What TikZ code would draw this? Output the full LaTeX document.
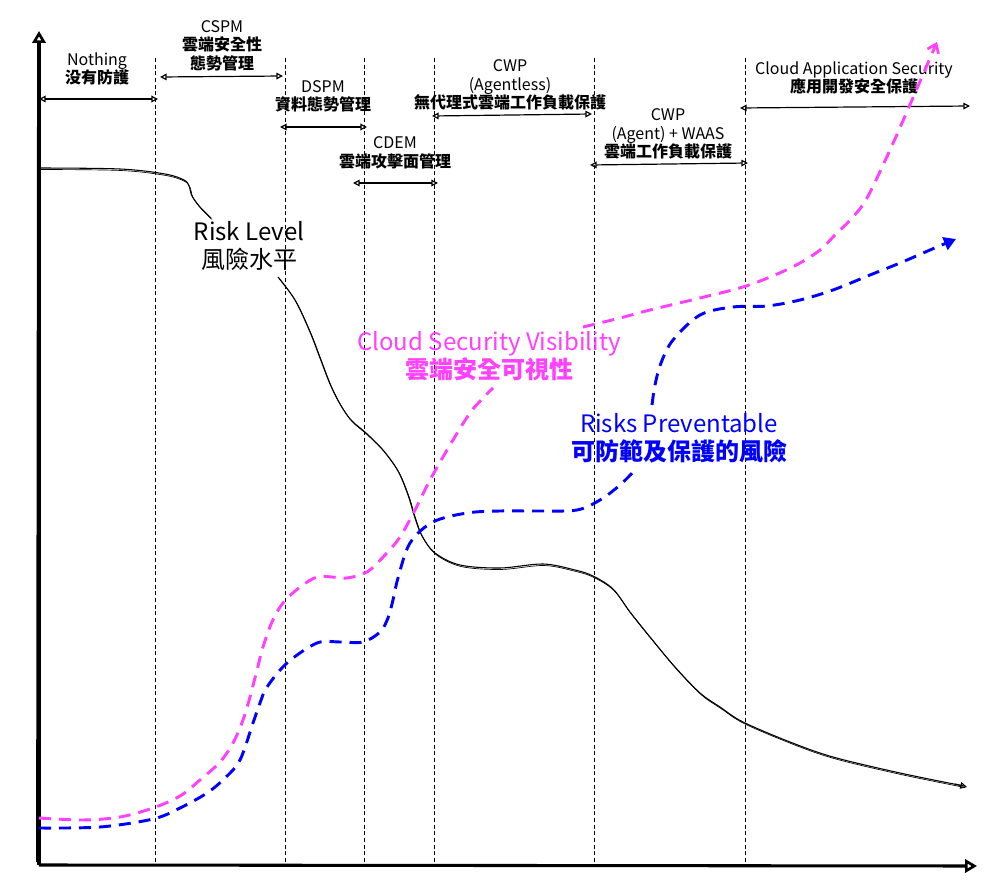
\documentclass[tikz,border=0pt]{standalone}
\usepackage{fontspec}
\setmainfont{Noto Sans CJK TC}
\usetikzlibrary{arrows.meta}
\definecolor{vis}{RGB}{255,64,255}
\definecolor{prev}{RGB}{0,0,255}
\begin{document}
\begin{tikzpicture}[x=0.75pt,y=-0.75pt,
  vline/.style={line width=0.6pt, dash pattern=on 3pt off 2pt},
  span/.style={line width=0.9pt, {Triangle[open,length=5pt,width=5pt]}-{Triangle[open,length=5pt,width=5pt]}},
  axis/.style={line width=2.3pt, -{Triangle[open,length=9pt,width=10pt,line width=2pt]}},
  small/.style={align=center, inner sep=0pt, font=\fontsize{12}{13.9}\selectfont},
  big/.style={align=center, inner sep=0pt, font=\fontsize{18}{21}\selectfont},
  risk/.style={line width=0.8pt},
  visline/.style={vis, line width=2.2pt, dash pattern=on 9pt off 6pt},
  prevline/.style={prev, line width=2.2pt, dash pattern=on 9pt off 6pt},
]
\useasboundingbox (0,0) rectangle (1001,888);
\fill[white] (0,0) rectangle (1001,888);

% vertical dashed separators
\foreach \x/\n in {155/a,285/b,364/c,434/d,594/e,745/f}{
  \coordinate (t\n) at (\x,58);
  \coordinate (b\n) at (\x,862);
  \draw[vline] (t\n) -- (b\n);
}

% axes
\coordinate (origin) at (39,865);
\coordinate (ytop) at (39,31);
\coordinate (xend) at (977,866);
\draw[axis] (origin) -- (ytop);
\draw[line width=0.6pt] (36.5,862) -- (37.5,45);
\draw[axis] (origin) -- (xend);

% span arrows
\coordinate (s1a) at (39,99);   \coordinate (s1b) at (158,99);
\coordinate (s2a) at (160,77);  \coordinate (s2b) at (283,76);
\coordinate (s3a) at (280,127); \coordinate (s3b) at (367,127);
\coordinate (s4a) at (353,183); \coordinate (s4b) at (438,183);
\coordinate (s5a) at (432,116); \coordinate (s5b) at (592,114);
\coordinate (s6a) at (590,165); \coordinate (s6b) at (748,163);
\coordinate (s7a) at (740,108); \coordinate (s7b) at (970,106);
\foreach \i in {1,...,7}{ \draw[span] (s\i a) -- (s\i b); }

% span labels
\node[small] (lnothing) at (97,69) {Nothing\\ \textbf{没有防護}};
\node[small] (lcspm) at (222,45.5) {CSPM\\ \textbf{雲端安全性}\\ \textbf{態勢管理}};
\node[small] (ldspm) at (323,96.5) {DSPM\\ \textbf{資料態勢管理}};
\node[small] (lcdem) at (395,153) {CDEM\\ \textbf{雲端攻擊面管理}};
\node[small] (lcwpa) at (510,85) {CWP\\ (Agentless)\\ \textbf{無代理式雲端工作負載保護}};
\node[small] (lcwpb) at (668,134) {CWP\\ (Agent) + WAAS\\ \textbf{雲端工作負載保護}};
\node[small] (lcas) at (854,78) {Cloud Application Security\\ \textbf{應用開發安全保護}};

% risk level curve
\foreach \dx/\dy/\w in {0/0/0.8pt,1/1.5/0.5pt}{
\begin{scope}[shift={(\dx,\dy)}]
\draw[risk, line width=\w] plot[smooth, tension=0.55] coordinates {(39,168) (120,169) (165,174) (184,180) (189,186) (192,196) (200,207) (211,218)};
\draw[risk, line width=\w] plot[smooth, tension=0.55] coordinates {(278,277) (295,300) (310,332) (320,358) (330,384) (340,404) (351,420) (366,433) (383,450) (398,471) (408,495) (415,518) (422,536) (435,553) (460,565) (500,568) (543,564) (575,570) (593,576) (613,589) (630,612) (650,637) (675,667) (700,693) (720,707) (743,722) (790,742) (833,757) (900,773) (964,786)};
\end{scope}}
\draw[line width=0.8pt, -{Triangle[open,length=5pt,width=5pt]}] (955,784) -- (967,787);

% cloud security visibility curve
\draw[visline] plot[smooth, tension=0.55] coordinates {(39,818) (83,820) (120,817) (153,808) (180,796) (200,780) (220,762) (233,743) (243,720) (250,697) (257,670) (263,647) (272,622) (283,603) (300,587) (317,577) (332,577) (347,578) (367,572) (385,555) (400,537) (415,510) (430,480) (450,445) (470,413) (485,396) (493,388)};
\draw[visline, -{Straight Barb[length=6pt,width=9pt,line width=2pt]}] plot[smooth, tension=0.55] coordinates {(583,327) (620,318) (650,310) (700,298) (743,287) (775,275) (800,263) (820,250) (835,235) (852,218) (867,198) (890,150) (912,100) (937,42)};

% risks preventable curve
\draw[prevline] plot[smooth, tension=0.55] coordinates {(39,828) (100,827) (153,819) (180,808) (207,793) (225,778) (240,760) (253,723) (260,703) (267,687) (287,663) (317,643) (340,642) (363,642) (380,632) (388,618) (393,600) (398,578) (410,543) (433,522) (467,513) (500,511) (540,511) (577,510) (600,500) (620,485) (637,468)};
\draw[prevline, -{Triangle[length=9pt,width=10pt]}] plot[smooth, tension=0.55] coordinates {(652,405) (655,385) (661,363) (673,340) (700,315) (733,307) (767,306) (800,300) (833,290) (870,275) (900,263) (930,250) (956,239)};

% curve labels
\node[big] (lrisk) at (249,246) {Risk Level\\ 風險水平};
\node[big, text=vis] (lvis) at (489,356) {Cloud Security Visibility\\ \textbf{雲端安全可視性}};
\node[big, text=prev] (lprev) at (679,438) {Risks Preventable\\ \textbf{可防範及保護的風險}};
\end{tikzpicture}
\end{document}
